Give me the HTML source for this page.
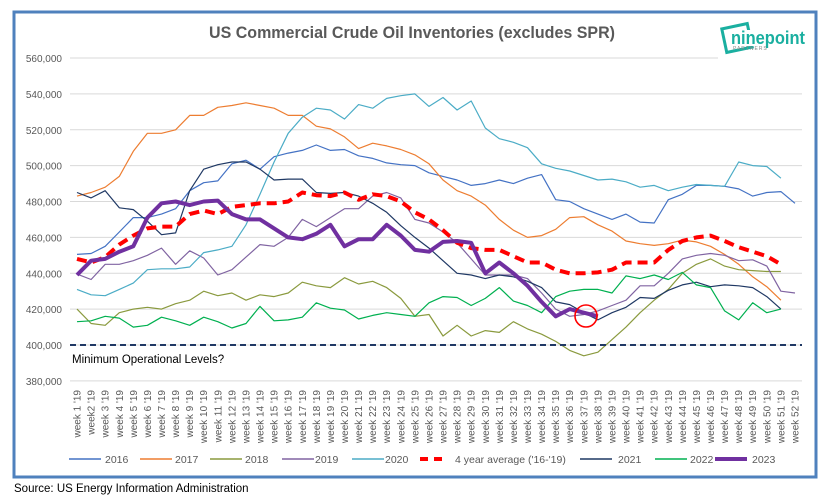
<!DOCTYPE html>
<html><head><meta charset="utf-8"><style>
html,body{margin:0;padding:0;background:#fff;}
svg{display:block;font-family:"Liberation Sans",sans-serif;}
</style></head><body>
<svg id="chart" width="823" height="496" viewBox="0 0 823 496" xmlns="http://www.w3.org/2000/svg">
<rect x="0" y="0" width="823" height="496" fill="#fff"/>
<rect x="14" y="12" width="802" height="465" fill="none" stroke="#4F81BD" stroke-width="3"/>
<text x="412" y="38" text-anchor="middle" font-size="17" font-weight="bold" fill="#595959" textLength="406" lengthAdjust="spacingAndGlyphs">US Commercial Crude Oil Inventories (excludes SPR)</text>
<g>
<rect x="724" y="26" width="26" height="24" fill="none" stroke="#1AAFA0" stroke-width="3" transform="rotate(-12 737 38)"/>
<rect x="730" y="30" width="76" height="16" fill="#fff"/>
<text x="731" y="44" font-size="18" font-weight="bold" fill="#1AAFA0" textLength="74" lengthAdjust="spacingAndGlyphs">ninepoint</text>
<text x="733" y="50" font-size="5" fill="#888" letter-spacing="1">PARTNERS</text>
</g>
<g id="grid"></g>
<g id="yaxis"></g>
<g id="xaxis"></g>
<g id="series"></g>
<line id="minline" x1="70" x2="802" stroke="#1F3864" stroke-width="2" stroke-dasharray="6,4"/>
<text x="72" y="363" font-size="11.5" fill="#000">Minimum Operational Levels?</text>
<circle cx="586" cy="316" r="11" fill="none" stroke="#FF0000" stroke-width="1.6"/>
<g id="legend"></g>
<text x="14" y="492" font-size="11.5" fill="#000">Source: US Energy Information Administration</text>
</svg>
<script>
const weeks = Array.from({length:52},(_,i)=> i===1 ? "week2 '19" : "week " + (i+1) + " '19");
const yTicks = [380000,400000,420000,440000,460000,480000,500000,520000,540000,560000];
const minLevel = 400000;
const s2016 = [450.5,451,455,463,471,471,473,476,486,490.5,491.5,501,503,498,505,507,508.5,511.5,508.5,509,505.5,504,501.5,500.5,500,496,494,492,489,490,492,490,493,495,481,480,476,473,470,473,468.5,468,481,484,489,489,488.5,487,483,485,485.5,479];
const s2017 = [483,485,488,494,508,518,518,520,528,528,532.5,533.5,535,533.5,532,528,528,522,520.5,516,509.5,512.5,511,509,506,501,492,486,483,478,470,464,460,461,464.5,471,471.5,467,463.5,458,456.5,455.5,456.5,458.5,457.5,455,450.5,445,438,432.5,425];
const s2018 = [420,412,411,418,420,421,420,423,425,430,427.5,429,425,428,427,429,435,433,432,437.5,434,435.5,432,426,416,417,405,411,405,408,407,413,409,406,402,397,394,396,403,410,418,425,431,440,445,448,444,442,441.5,441,441];
const s2019 = [439.5,436.5,445,445,447,450,454,445,452.5,448.5,439,442,449,456,455,460,470,466,471,476,476,483,485,482,470,468,463,457,448,439,439,439,437,429,420,416,417,419,422,425,433,433,440,448,450,451,450,447,447.5,444,430,429];
const s2020 = [431,428,427.5,431,434.5,442,442.5,442.5,443.5,451.5,453,455,467,484,502,518,527,532,531,526,534,532,537.5,539,540,533,538,531,536,521,515,513,510,501,498.5,497,494.5,492,492.5,491,488,489,486,488,489.5,489,488.5,502,500,499.5,493];
const sAvg = [448,446,449,456,461,465,466,466,473,475,473,477,478,479,479,480,485,483.5,483,485,481,484,483,480,474,470,464,457,454,453,453,449.5,446,446,442,440,440,440.5,442,446,446,446,453,458,460,461,458,454.5,452,449.5,445];
const s2021 = [485,482,486,476.5,475.5,469,461.5,462.5,486,498,500.5,502,502,498,492,492.5,492.5,485,484.5,485,483,479,474,466.5,460,454,447,440,439,437,439,438,435.5,432,424,422.5,418,414,418,421,426.5,426,430.5,433.5,435,432.5,433.5,433,432,427,420];
const s2022 = [413,413.5,416,415,410,411,415.5,413.5,411,415.5,413,409.5,412,421.5,413.5,414,415.5,423.5,420.5,419.5,414.5,416.5,418,417,416,423.5,427,426.5,422,426,432,424.5,422,418,427,430,431,431,429,438.5,437,439,436.5,440.5,433.5,432,419,414,423.5,418,420];
const s2023 = [439,447,448,452,455,471,479,480,478,480,480.5,473,470,470,465,460,459,462,467,455,459,459,467,461,453,452,457.5,458,457,440,446,440,433,424,416,420,418,416];
const seriesNames = ["2016","2017","2018","2019","2020","4 year average ('16-'19)","2021","2022","2023"];
const seriesData = [s2016,s2017,s2018,s2019,s2020,sAvg,s2021,s2022,s2023];
const colors = ["#4472C4","#ED7D31","#8A9A3E","#8064A2","#4BACC6","#FF0000","#1F3864","#00B050","#7030A0"];
const widths = [1.2,1.2,1.2,1.2,1.2,4,1.2,1.2,4];
const NS="http://www.w3.org/2000/svg";
const L=70,R=802,step=(R-L)/weeks.length;
const X=i=>L+step*(i+0.5);
const Y=v=>58+(560000-v)*(287/160000);
function mk(t,a,p){const e=document.createElementNS(NS,t);for(const k in a)e.setAttribute(k,a[k]);p.appendChild(e);return e;}
const grid=document.getElementById('grid'),ya=document.getElementById('yaxis'),xa=document.getElementById('xaxis');
yTicks.forEach(t=>{
  const g=mk('line',{x1:L,x2:t===560000?718:R,y1:Y(t),y2:Y(t),stroke:'#D9D9D9','stroke-width':1},grid);
  
  
  const tx=mk('text',{x:62,y:Y(t)+4,'text-anchor':'end','font-size':10,fill:'#595959'},ya);
  
  
  tx.textContent=t.toLocaleString('en-US');
});
const ml=document.getElementById('minline');ml.setAttribute('y1',Y(minLevel));ml.setAttribute('y2',Y(minLevel));
weeks.forEach((w,i)=>{
  const tx=mk('text',{x:0,y:0,'text-anchor':'end','font-size':10,fill:'#595959',transform:`translate(${X(i)+3.5},390) rotate(-90)`},xa);
  
  
  tx.textContent=w;
});
const sg=document.getElementById('series');
seriesData.forEach((d,k)=>{
  const pts=d.map((v,i)=>X(i).toFixed(1)+','+Y(v*1000).toFixed(1)).join(' ');
  const a={points:pts,fill:'none',stroke:colors[k],'stroke-width':widths[k],'stroke-linejoin':'round'};
  if(k===5){a['stroke-dasharray']='10,6';}
  const p=mk('polyline',a,sg);
  
  
});
// draw 2023 and avg on top
sg.appendChild(sg.children[5]);sg.appendChild(sg.children[7]);
const lg=document.getElementById('legend');
const lx=[69,140,210,282,352,420,580,655,715],tx0=[105,175,245,315,385,455,618,690,752];
seriesNames.forEach((n,k)=>{
  const g=mk('g',{},lg);
  
  
  const a={x1:lx[k],x2:lx[k]+(k===5?26:32),y1:459,y2:459,stroke:colors[k],'stroke-width':k===5||k===8?4:1.5};
  if(k===5)a['stroke-dasharray']='8,6';
  mk('line',a,g);
  const t=mk('text',{x:tx0[k],y:463,'font-size':10.5,fill:'#595959'},g);
  t.textContent=n;
});
</script>
</body></html>
